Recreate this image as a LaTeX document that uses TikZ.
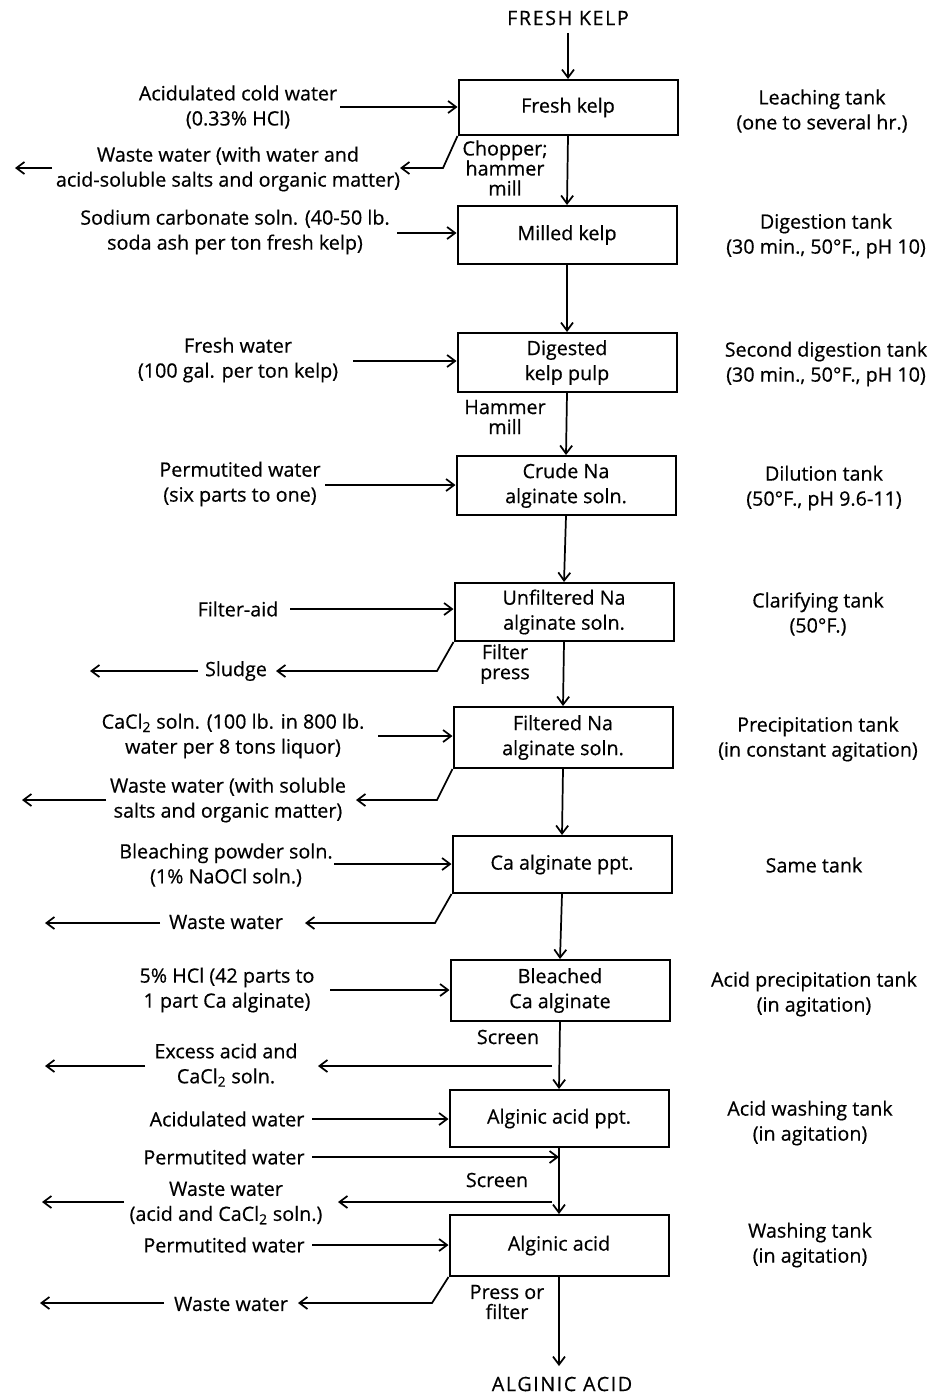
\documentclass[tikz,border=0pt]{standalone}
\usepackage{fontspec}
\setmainfont[FakeBold=0.5]{Open Sans}
\usetikzlibrary{arrows.meta}
\begin{document}
\begin{tikzpicture}[x=0.75pt,y=-0.75pt,
  every node/.style={font=\fontsize{14.8}{18.75}\selectfont, inner sep=0pt},
  box/.style={draw, line width=1.5pt, minimum width=164.25pt, align=center},
  txt/.style={align=center},
  lbl/.style={align=center, font=\fontsize{14.8}{15}\selectfont},
  arr/.style={line width=1.3pt, -{Straight Barb[length=6pt,width=9pt,line width=1.3pt]}},
  ln/.style={line width=1.3pt}
]
\useasboundingbox (0,0) rectangle (943,1395);
\fill[white] (0,0) rectangle (943,1395);

% boxes
\node[box, minimum height=41.25pt] (b1) at (568,107.5) {Fresh kelp};
\node[box, minimum height=43.5pt] (b2) at (567,235) {Milled kelp};
\node[box, minimum height=44.25pt] (b3) at (567,362.5) {Digested\\kelp pulp};
\node[box, minimum height=44.25pt] (b4) at (566,485.5) {Crude Na\\alginate soln.};
\node[box, minimum height=43.5pt] (b5) at (564,612) {Unfiltered Na\\alginate soln.};
\node[box, minimum height=45.75pt] (b6) at (563,737.5) {Filtered Na\\alginate soln.};
\node[box, minimum height=42.75pt] (b7) at (562,864.5) {Ca alginate ppt.};
\node[box, minimum height=45.75pt] (b8) at (560,990.5) {Bleached\\Ca alginate};
\node[box, minimum height=42.75pt] (b9) at (559,1118.5) {Alginic acid ppt.};
\node[box, minimum height=45.75pt] (b10) at (559,1245.5) {Alginic acid};

\node (top) at (568,18) {\addfontfeature{LetterSpace=8}FRESH KELP};
\node (out) at (562,1384) {\addfontfeature{LetterSpace=8}ALGINIC ACID};
\coordinate (tin) at (568,33);
\coordinate (tout) at (559,1366);

% main flow
\draw[arr] (tin) -- (b1.north);
\draw[arr] (b1.south) -- (b2.north);
\draw[arr] (b2.south) -- (b3.north);
\draw[arr] (b3.south) -- (b4.north);
\draw[arr] (b4.south) -- (b5.north);
\draw[arr] (b5.south) -- (b6.north);
\draw[arr] (b6.south) -- (b7.north);
\draw[arr] (b7.south) -- (b8.north);
\draw[arr] (b8.south) -- (b9.north);
\draw[arr] (b9.south) -- (b10.north);
\draw[arr] (b10.south) -- (tout);

% labels on main line
\node[lbl] (l1) at (505,168) {Chopper;\\hammer\\mill};
\node[lbl] (l2) at (505,417) {Hammer\\mill};
\node[lbl] (l3) at (505,664) {Filter\\press};
\node[lbl] (l4) at (508,1037) {Screen};
\node[lbl] (l5) at (497,1180) {Screen};
\node[lbl] (l6) at (507,1302) {Press or\\filter};

% right side
\node[txt] (r1) at (822,111) {Leaching tank\\(one to several hr.)};
\node[txt] (r2) at (826,236) {Digestion tank\\(30 min., 50°F., pH 10)};
\node[txt] (r3) at (826,364) {Second digestion tank\\(30 min., 50°F., pH 10)};
\node[txt] (r4) at (824,488) {Dilution tank\\(50°F., pH 9.6-11)};
\node[txt] (r5) at (818,614) {Clarifying tank\\(50°F.)};
\node[txt] (r6) at (818,739) {Precipitation tank\\(in constant agitation)};
\node[txt] (r7) at (814,865) {Same tank};
\node[txt] (r8) at (814,994) {Acid precipitation tank\\(in agitation)};
\node[txt] (r9) at (810,1123) {Acid washing tank\\(in agitation)};
\node[txt] (r10) at (810,1245) {Washing tank\\(in agitation)};

% left inputs
\node[txt] (i1) at (238,107) {Acidulated cold water\\(0.33\% HCl)};
\coordinate (c1) at (340,107);
\draw[arr] (c1) -- (c1 -| b1.west);

\node[txt] (i2) at (235,232) {Sodium carbonate soln. (40-50 lb.\\soda ash per ton fresh kelp)};
\coordinate (c2) at (397,233);
\draw[arr] (c2) -- (c2 -| b2.west);

\node[txt] (i3) at (238,360) {Fresh water\\(100 gal. per ton kelp)};
\coordinate (c3) at (353,361);
\draw[arr] (c3) -- (c3 -| b3.west);

\node[txt] (i4) at (240,484) {Permutited water\\(six parts to one)};
\coordinate (c4) at (325,485);
\draw[arr] (c4) -- (c4 -| b4.west);

\node[txt] (i5) at (238,609) {Filter-aid};
\coordinate (c5) at (290,609);
\draw[arr] (c5) -- (c5 -| b5.west);

\node[txt] (i6) at (233,736) {CaCl\textsubscript{2} soln. (100 lb. in 800 lb.\\water per 8 tons liquor)};
\coordinate (c6) at (378,736);
\draw[arr] (c6) -- (c6 -| b6.west);

\node[txt] (i7) at (226,865) {Bleaching powder soln.\\(1\% NaOCl soln.)};
\coordinate (c7) at (334,864);
\draw[arr] (c7) -- (c7 -| b7.west);

\node[txt] (i8) at (227,990) {5\% HCl (42 parts to\\1 part Ca alginate)};
\coordinate (c8) at (330,990);
\draw[arr] (c8) -- (c8 -| b8.west);

\node[txt] (i9) at (227,1119) {Acidulated water};
\coordinate (c9) at (312,1119);
\draw[arr] (c9) -- (c9 -| b9.west);

\node[txt] (i10) at (224,1157) {Permutited water};
\coordinate (c10) at (312,1157);
\draw[arr] (c10) -- (c10 -| b9.south);

\node[txt] (i11) at (224,1245) {Permutited water};
\coordinate (c11) at (312,1245);
\draw[arr] (c11) -- (c11 -| b10.west);

% waste outputs
\node[txt] (w1) at (228,169) {Waste water (with water and\\acid-soluble salts and organic matter)};
\coordinate (d1) at (443,168); \coordinate (e1) at (400,168);
\draw[arr] (b1.south west) -- (d1) -- (e1);
\coordinate (f1) at (52,168); \coordinate (g1) at (15,168);
\draw[arr] (f1) -- (g1);

\node[txt] (w5) at (236,671) {Sludge};
\coordinate (d5) at (437,671); \coordinate (e5) at (276,671);
\draw[arr] (b5.south west) -- (d5) -- (e5);
\coordinate (f5) at (198,671); \coordinate (g5) at (90,671);
\draw[arr] (f5) -- (g5);

\node[txt] (w6) at (228,800) {Waste water (with soluble\\salts and organic matter)};
\coordinate (d6) at (437,800); \coordinate (e6) at (356,800);
\draw[arr] (b6.south west) -- (d6) -- (e6);
\coordinate (f6) at (106,800); \coordinate (g6) at (22,800);
\draw[arr] (f6) -- (g6);

\node[txt] (w7) at (226,922) {Waste water};
\coordinate (d7) at (435,923); \coordinate (e7) at (305,923);
\draw[arr] (b7.south west) -- (d7) -- (e7);
\coordinate (f7) at (160,923); \coordinate (g7) at (45,923);
\draw[arr] (f7) -- (g7);

\node[txt] (w8) at (226,1065) {Excess acid and\\CaCl\textsubscript{2} soln.};
\coordinate (d8) at (552,1066); \coordinate (e8) at (318,1066);
\draw[arr] (d8) -- (e8);
\coordinate (f8) at (145,1066); \coordinate (g8) at (45,1066);
\draw[arr] (f8) -- (g8);

\node[txt] (w10) at (226,1203) {Waste water\\(acid and CaCl\textsubscript{2} soln.)};
\coordinate (d10) at (552,1202); \coordinate (e10) at (338,1202);
\draw[arr] (d10) -- (e10);
\coordinate (f10) at (124,1202); \coordinate (g10) at (42,1202);
\draw[arr] (f10) -- (g10);

\node[txt] (w11) at (231,1304) {Waste water};
\coordinate (d11) at (432,1303); \coordinate (e11) at (298,1303);
\draw[arr] (b10.south west) -- (d11) -- (e11);
\coordinate (f11) at (164,1303); \coordinate (g11) at (40,1303);
\draw[arr] (f11) -- (g11);
\end{tikzpicture}
\end{document}
